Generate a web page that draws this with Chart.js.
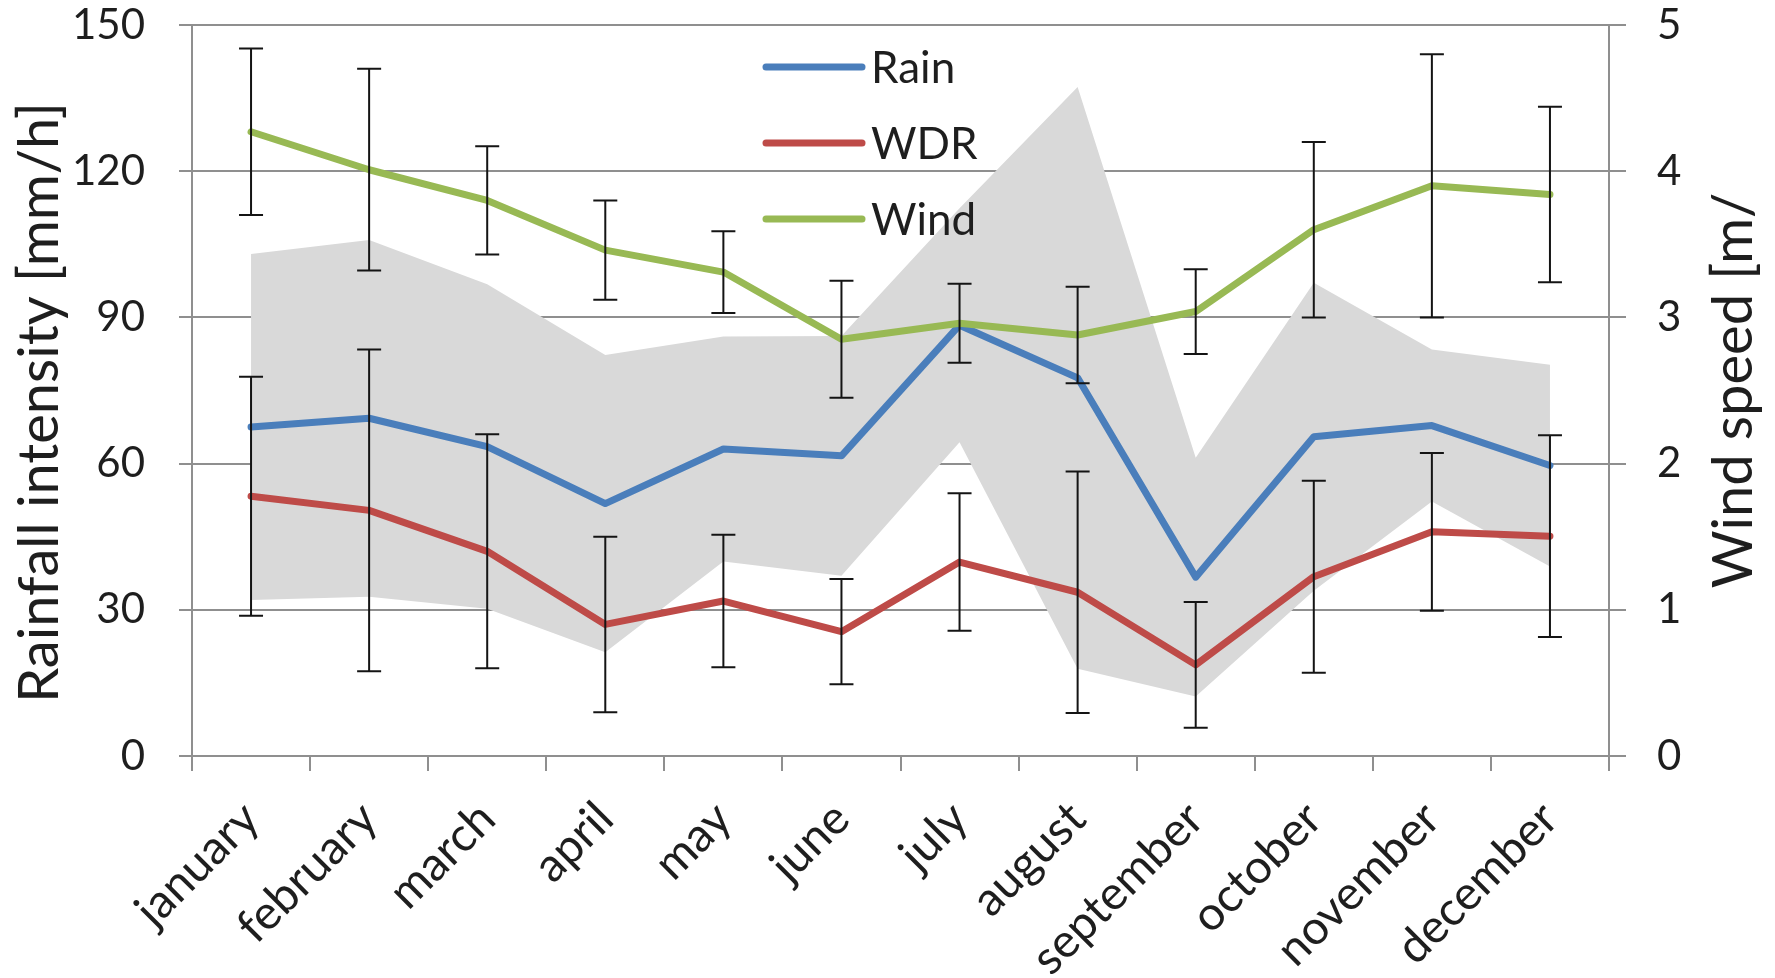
<!DOCTYPE html>
<html>
<head>
<meta charset="utf-8">
<title>Rain, WDR and wind</title>
<script src="https://cdn.jsdelivr.net/npm/chart.js@4.4.1/dist/chart.umd.min.js"></script>
<style>
  html, body { margin: 0; padding: 0; background: #fff; }
  #wrap { width: 1775px; height: 978px; }
</style>
</head>
<body>
<div id="wrap"><canvas id="graphic" width="1775" height="978"></canvas></div>
<script>
// monthly means with their standard deviations
var months = ['january', 'february', 'march', 'april', 'may', 'june',
              'july', 'august', 'september', 'october', 'november', 'december'];
var rain   = [67.5, 69.3, 63.5, 51.8, 63.0, 61.6, 88.4, 77.6, 36.7, 65.5, 67.8, 59.6];
var rainSd = [35.5, 36.6, 33.3, 30.5, 23.1, 24.6, 24.0, 59.7, 24.5, 31.6, 15.6, 20.7];
var wdr    = [53.3, 50.4, 42.0, 27.0, 31.8, 25.5, 39.8, 33.6, 18.7, 36.8, 46.0, 45.1];
var wdrSd  = [24.5, 33.0, 24.0, 18.0, 13.6, 10.8, 14.1, 24.8, 12.9, 19.7, 16.2, 20.7];
var wind   = [4.27, 4.01, 3.80, 3.46, 3.31, 2.85, 2.96, 2.88, 3.04, 3.60, 3.90, 3.84];
var windSd = [0.57, 0.69, 0.37, 0.34, 0.28, 0.40, 0.27, 0.33, 0.29, 0.60, 0.90, 0.60];

// axis tick values
var rainTicks = [0, 30, 60, 90, 120, 150];
var windTicks = [0, 1, 2, 3, 4, 5];

var rainHigh = rain.map(function (v, i) { return v + rainSd[i]; });
var rainLow  = rain.map(function (v, i) { return v - rainSd[i]; });

var FONT = 'Lato';
var GRID = '#8f8f8f';
var TEXT = '#1e1e1e';

// black whiskers, drawn for every dataset that carries an "errors" array
var errorBars = {
  id: 'errorBars',
  afterDatasetsDraw: function (chart) {
    var ctx = chart.ctx;
    var xs = chart.scales.x;
    ctx.save();
    ctx.strokeStyle = '#141414';
    ctx.lineWidth = 2;
    chart.data.datasets.forEach(function (ds) {
      if (!ds.errors) return;
      var ys = chart.scales[ds.yAxisID];
      ds.data.forEach(function (v, i) {
        var px = xs.getPixelForValue(i);
        var top = ys.getPixelForValue(v + ds.errors[i]);
        var bot = ys.getPixelForValue(v - ds.errors[i]);
        ctx.beginPath();
        ctx.moveTo(px, top); ctx.lineTo(px, bot);
        ctx.moveTo(px - 12, top); ctx.lineTo(px + 12, top);
        ctx.moveTo(px - 12, bot); ctx.lineTo(px + 12, bot);
        ctx.stroke();
      });
    });
    ctx.restore();
  }
};

// legend sitting inside the plot, one row per line series
var innerLegend = {
  id: 'innerLegend',
  afterDraw: function (chart) {
    var ctx = chart.ctx;
    var rows = chart.data.datasets
      .filter(function (d) { return d.legendRow !== undefined; })
      .sort(function (a, b) { return a.legendRow - b.legendRow; });
    ctx.save();
    ctx.font = '44px ' + FONT;
    ctx.fillStyle = TEXT;
    ctx.textBaseline = 'alphabetic';
    ctx.lineCap = 'round';
    rows.forEach(function (d, k) {
      var base = 83 + k * 76;
      ctx.strokeStyle = d.borderColor;
      ctx.lineWidth = 7;
      ctx.beginPath();
      ctx.moveTo(766, base - 16);
      ctx.lineTo(862, base - 16);
      ctx.stroke();
      ctx.fillText(d.label, 871, base);
    });
    ctx.restore();
  }
};

// both axis titles read bottom to top
var axisTitles = {
  id: 'axisTitles',
  afterDraw: function (chart) {
    var ctx = chart.ctx;
    var area = chart.chartArea;
    var mid = (area.top + area.bottom) / 2;
    function vtext(str, x, y) {
      ctx.save();
      ctx.translate(x, y);
      ctx.rotate(-Math.PI / 2);
      ctx.font = '56px ' + FONT;
      ctx.fillStyle = TEXT;
      ctx.textAlign = 'center';
      ctx.textBaseline = 'middle';
      ctx.fillText(str, 0, 0);
      ctx.restore();
    }
    vtext('Rainfall intensity [mm/h]', 40, mid + 12);
    vtext('Wind speed [m/', 1734, mid);
  }
};

var ctx = document.getElementById('graphic').getContext('2d');

var chart = new Chart(ctx, {
  type: 'line',
  data: {
    labels: months,
    datasets: [
      {
        label: 'Wind', data: wind, errors: windSd, legendRow: 2, yAxisID: 'y1',
        borderColor: '#98b954', borderWidth: 7, pointRadius: 0, fill: false, order: 0
      },
      {
        label: 'Rain', data: rain, legendRow: 0, yAxisID: 'y',
        borderColor: '#4a7ebb', borderWidth: 7, pointRadius: 0, fill: false, order: 1
      },
      {
        label: 'WDR', data: wdr, errors: wdrSd, legendRow: 1, yAxisID: 'y',
        borderColor: '#be4b48', borderWidth: 7, pointRadius: 0, fill: false, order: 2
      },
      {
        label: 'rain +sd', data: rainHigh, yAxisID: 'y',
        borderWidth: 0, borderColor: 'rgba(0,0,0,0)', pointRadius: 0,
        backgroundColor: '#d9d9d9', fill: '+1', order: 3
      },
      {
        label: 'rain -sd', data: rainLow, yAxisID: 'y',
        borderWidth: 0, borderColor: 'rgba(0,0,0,0)', pointRadius: 0,
        fill: false, order: 4
      }
    ]
  },
  options: {
    responsive: false,
    animation: false,
    devicePixelRatio: 1,
    layout: { padding: { top: 25, left: 0, right: 0, bottom: 0 } },
    elements: { line: { tension: 0, borderCapStyle: 'round', borderJoinStyle: 'round' } },
    plugins: {
      legend: { display: false },
      tooltip: { enabled: false }
    },
    scales: {
      x: {
        offset: true,
        grid: { offset: true, drawOnChartArea: false, color: GRID, lineWidth: 2, tickLength: 15 },
        border: { color: GRID, width: 2 },
        ticks: { maxRotation: 45, minRotation: 45, padding: 20, color: TEXT, font: { family: FONT, size: 47 } },
        afterFit: function (s) { s.height = 222; }
      },
      y: {
        position: 'left',
        min: rainTicks[0], max: rainTicks[rainTicks.length - 1],
        grid: { color: GRID, lineWidth: 2, tickLength: 13 },
        border: { color: GRID, width: 2 },
        ticks: { stepSize: rainTicks[1] - rainTicks[0], padding: 34, color: TEXT, font: { family: FONT, size: 42 } },
        afterFit: function (s) { s.width = 192; s.paddingTop = 0; s.paddingBottom = 0; }
      },
      y1: {
        position: 'right',
        min: windTicks[0], max: windTicks[windTicks.length - 1],
        grid: { drawOnChartArea: false, color: GRID, lineWidth: 2, tickLength: 17 },
        border: { color: GRID, width: 2 },
        ticks: { stepSize: windTicks[1] - windTicks[0], padding: 31, color: TEXT, font: { family: FONT, size: 42 } },
        afterFit: function (s) { s.width = 166; s.paddingTop = 0; s.paddingBottom = 0; }
      }
    }
  },
  plugins: [errorBars, innerLegend, axisTitles]
});
</script>
</body>
</html>
